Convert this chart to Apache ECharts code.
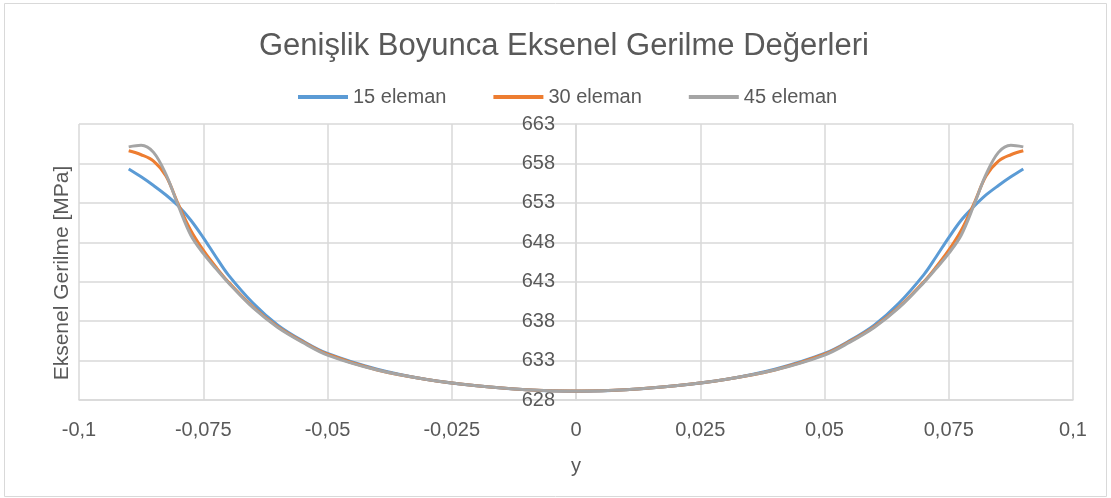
<!DOCTYPE html>
<html>
<head>
<meta charset="utf-8">
<script src="https://cdn.jsdelivr.net/npm/echarts@6/dist/echarts.min.js"></script>
<style>
html,body{margin:0;padding:0;background:#fff;}
#chart{width:1111px;height:498px;}
</style>
</head>
<body>
<div id="chart"></div>
<script>
const titleText = 'Genişlik Boyunca Eksenel Gerilme Değerleri';
const xAxisName = 'y';
const yAxisName = 'Eksenel Gerilme [MPa]';
const seriesNames = ['15 eleman', '30 eleman', '45 eleman'];

const xValues = [-0.09, -0.0875, -0.085, -0.0825, -0.08, -0.0775, -0.075, -0.0725, -0.07, -0.065, -0.06, -0.055, -0.05, -0.04, -0.03, -0.02, -0.01, 0,
  0.01, 0.02, 0.03, 0.04, 0.05, 0.055, 0.06, 0.065, 0.07, 0.0725, 0.075, 0.0775, 0.08, 0.0825, 0.085, 0.0875, 0.09];

const eleman15 = [657.3, 656.3, 655.2, 654.0, 652.6, 650.8, 648.6, 646.2, 643.9, 640.3, 637.5, 635.5, 633.9, 631.9, 630.6, 629.8, 629.3, 629.1,
  629.3, 629.8, 630.6, 631.9, 633.9, 635.5, 637.5, 640.3, 643.9, 646.2, 648.6, 650.8, 652.5, 654.0, 655.2, 656.3, 657.3];

const eleman30 = [659.6, 659.1, 658.3, 656.4, 652.8, 649.5, 647.0, 644.9, 643.0, 639.8, 637.3, 635.4, 633.8, 631.8, 630.6, 629.8, 629.3, 629.15,
  629.3, 629.8, 630.6, 631.8, 633.8, 635.4, 637.3, 639.8, 643.0, 644.9, 647.0, 649.5, 652.8, 656.4, 658.3, 659.1, 659.6];

const eleman45 = [660.1, 660.3, 659.4, 656.6, 652.6, 648.9, 646.6, 644.7, 642.9, 639.7, 637.2, 635.3, 633.7, 631.8, 630.6, 629.8, 629.3, 629.15,
  629.3, 629.8, 630.6, 631.8, 633.7, 635.3, 637.2, 639.7, 642.9, 644.7, 646.6, 648.9, 652.6, 656.6, 659.4, 660.3, 660.1];

const xMin = -0.1, xMax = 0.1, xStep = 0.025;
const yMin = 628, yMax = 663, yStep = 5;

const colors = ['#5B9BD5', '#ED7D31', '#A5A5A5'];
const FONT = '"Liberation Sans", Arial, sans-serif';
const TXT = '#595959';
const GRID = '#D9D9D9';

const GRID_LEFT = 79, GRID_RIGHT = 38;
const PLOT_W = 1111 - GRID_LEFT - GRID_RIGHT;

function pairs(xs, ys) { return xs.map((x, i) => [x, ys[i]]); }
function fmt(v) { return parseFloat(v.toFixed(4)).toString().replace('.', ','); }

const chart = echarts.init(document.getElementById('chart'));
chart.setOption({
  animation: false,
  textStyle: { fontFamily: FONT },
  graphic: [{
    type: 'rect', shape: { x: 4.5, y: 3.5, width: 1102, height: 493 },
    style: { fill: 'none', stroke: GRID, lineWidth: 1 }, silent: true
  }],
  title: {
    text: titleText, left: 254, top: 26,
    textStyle: { fontFamily: FONT, fontSize: 31, fontWeight: 'normal', color: TXT }
  },
  legend: {
    top: 82, left: 293, icon: 'rect', itemWidth: 50, itemHeight: 4, itemGap: 47,
    textStyle: { fontFamily: FONT, fontSize: 20, color: TXT },
    data: seriesNames
  },
  grid: { left: GRID_LEFT, right: GRID_RIGHT, top: 124, bottom: 98, containLabel: false, outerBoundsMode: 'none' },
  xAxis: {
    type: 'value', min: xMin, max: xMax, interval: xStep,
    name: xAxisName, nameLocation: 'middle', nameGap: 56,
    nameTextStyle: { fontFamily: FONT, fontSize: 20, color: TXT },
    axisLine: { show: true, lineStyle: { color: GRID, width: 1.5 } },
    axisTick: { show: false },
    axisLabel: { fontFamily: FONT, fontSize: 20, color: TXT, margin: 20, formatter: fmt },
    splitLine: { show: true, lineStyle: { color: GRID, width: 1.5 } }
  },
  yAxis: {
    type: 'value', min: yMin, max: yMax, interval: yStep,
    offset: -PLOT_W / 2,
    name: yAxisName, nameLocation: 'middle', nameGap: 503,
    nameTextStyle: { fontFamily: FONT, fontSize: 21, color: TXT, padding: [0, 22, 0, 0] },
    axisLine: { show: true, onZero: false, lineStyle: { color: GRID, width: 1.5 } },
    axisTick: { show: false },
    axisLabel: { fontFamily: FONT, fontSize: 20, color: TXT, margin: 21 },
    splitLine: { show: true, lineStyle: { color: GRID, width: 1.5 } }
  },
  series: [eleman15, eleman30, eleman45].map((d, i) => ({
    name: seriesNames[i], type: 'line', data: pairs(xValues, d),
    smooth: 0.35, showSymbol: false, symbol: 'none',
    lineStyle: { color: colors[i], width: 3 }, itemStyle: { color: colors[i] }
  }))
});
</script>
</body>
</html>
